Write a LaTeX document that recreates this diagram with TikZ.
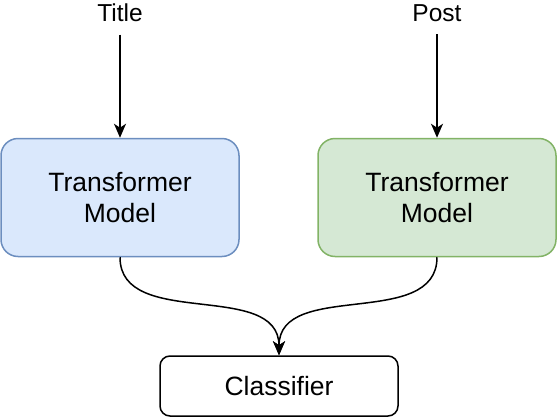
\documentclass[tikz,border=0pt]{standalone}
\usepackage{fontspec}
\setmainfont{Liberation Sans}
\usetikzlibrary{arrows.meta}

\definecolor{blueFill}{HTML}{DAE8FC}
\definecolor{blueLine}{HTML}{6C8EBF}
\definecolor{greenFill}{HTML}{D5E8D4}
\definecolor{greenLine}{HTML}{82B366}

\begin{document}
\begin{tikzpicture}[
  x=1pt, y=-1pt,
  model/.style={rectangle, draw, rounded corners=17pt, minimum width=238pt, minimum height=118pt, line width=1.5pt, font=\fontsize{26.5}{31}\selectfont, align=center},
  cls/.style={rectangle, draw, rounded corners=10pt, minimum width=238pt, minimum height=60pt, line width=1.5pt, font=\fontsize{26.5}{31}\selectfont},
  inp/.style={font=\fontsize{24.5}{31}\selectfont},
  arrow/.style={-{Stealth[length=14pt, width=12pt, inset=4pt]}, line width=1.5pt},
]
\useasboundingbox (0,0) rectangle (558,418);

% === Inputs ===
\node[inp] (title) at (120, 13) {Title};
\node[inp] (post) at (437, 13) {Post};

% === Transformer models ===
\node[model, fill=blueFill, draw=blueLine] (tl) at (120, 197.5) {Transformer\\Model};
\node[model, fill=greenFill, draw=greenLine] (tr) at (437, 197.5) {Transformer\\Model};

% === Classifier ===
\node[cls] (clf) at (279, 386) {Classifier};

\draw[arrow, shorten <=9pt] (title.south) -- (tl.north);
\draw[arrow, shorten <=9pt] (post.south) -- (tr.north);

\draw[arrow] (tl.south) .. controls +(0,73) and +(0,-76) .. (clf.north);
\draw[arrow] (tr.south) .. controls +(0,73) and +(0,-76) .. (clf.north);

\end{tikzpicture}
\end{document}
